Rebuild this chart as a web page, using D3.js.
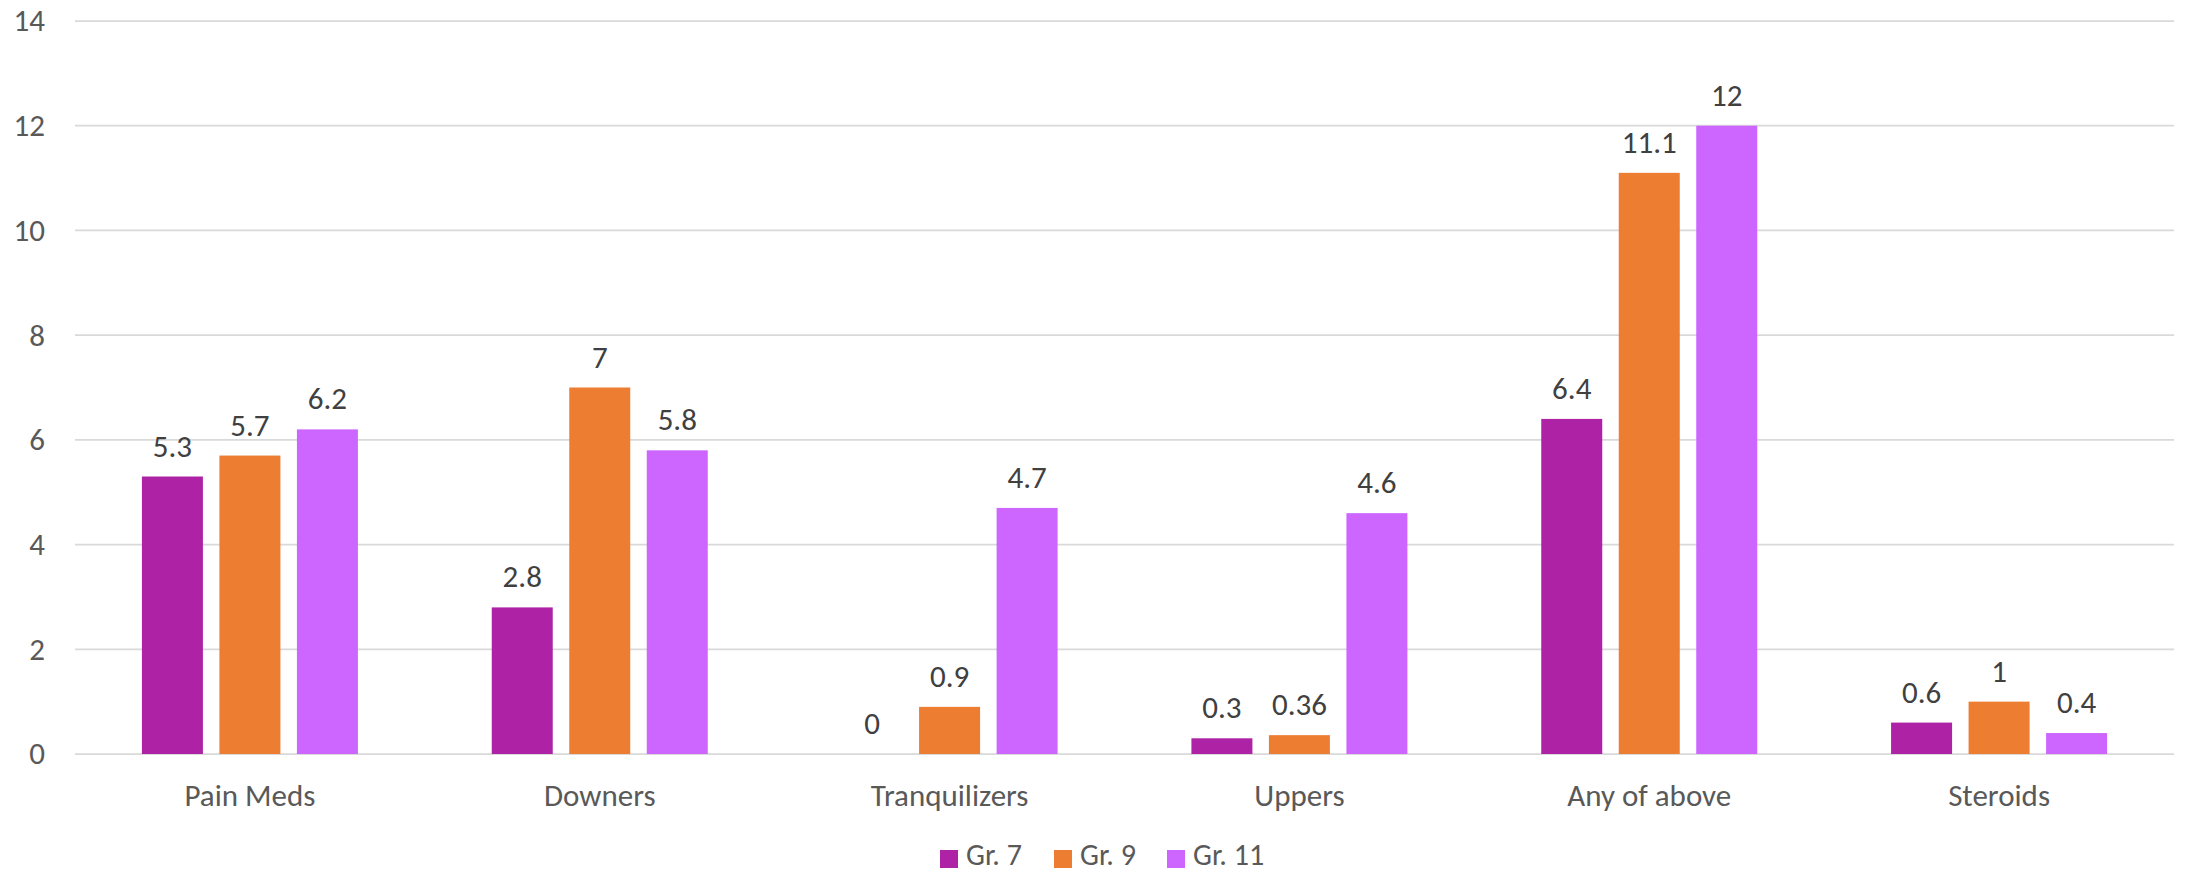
<!DOCTYPE html>
<html>
<head>
<meta charset="utf-8">
<script src="https://cdn.jsdelivr.net/npm/d3@7"></script>
<style>
  html, body { margin: 0; padding: 0; background: #fff; }
  svg { display: block; }
  text { font-family: Calibri, Carlito, Lato, "Open Sans", sans-serif; }
</style>
</head>
<body>
<svg id="chart" width="2186" height="872"></svg>
<script>
const categories = ["Pain Meds", "Downers", "Tranquilizers", "Uppers", "Any of above", "Steroids"];
const seriesNames = ["Gr. 7", "Gr. 9", "Gr. 11"];
const gr7  = [5.3, 2.8, 0,   0.3,  6.4,  0.6];
const gr9  = [5.7, 7,   0.9, 0.36, 11.1, 1];
const gr11 = [6.2, 5.8, 4.7, 4.6,  12,   0.4];
const seriesColors = ["#AE22A6", "#ED7D31", "#CC66FF"];
const yTicks = [0, 2, 4, 6, 8, 10, 12, 14];

const seriesValues = [gr7, gr9, gr11];
const plot = { left: 75, right: 2174, top: 21, bottom: 754 };
const fontSize = 31;
const fontFam = "Calibri, Carlito, Lato, 'Open Sans', sans-serif";

const svg = d3.select("#chart");

const x0 = d3.scaleBand().domain(categories).range([plot.left, plot.right]).paddingInner(0).paddingOuter(0);
const groupW = 216;
const x1 = d3.scaleBand().domain(seriesNames).range([0, groupW]).paddingInner(0.213).paddingOuter(0);
const y = d3.scaleLinear().domain([0, 14]).range([plot.bottom, plot.top]);

// gridlines
svg.append("g").selectAll("line").data(yTicks).join("line")
  .attr("x1", plot.left).attr("x2", plot.right)
  .attr("y1", d => y(d)).attr("y2", d => y(d))
  .attr("stroke", "#D9D9D9").attr("stroke-width", 1.75);

// y axis labels
const yAxis = d3.axisLeft(y).tickValues(yTicks).tickSize(0).tickPadding(0).tickFormat(d3.format("d"));
const yg = svg.append("g").attr("transform", `translate(45,0)`).call(yAxis);
yg.select(".domain").remove();
yg.selectAll("text").attr("fill", "#595959").style("font-size", fontSize + "px").style("font-family", fontFam);

// x axis labels
const xAxis = d3.axisBottom(x0).tickSize(0).tickPadding(0);
const xg = svg.append("g").attr("transform", `translate(0,${plot.bottom})`).call(xAxis);
xg.select(".domain").remove();
xg.selectAll("text").attr("fill", "#595959").attr("dy", null).attr("y", 52)
  .style("font-size", fontSize + "px").style("font-family", fontFam);

// bars
const rows = categories.map((c, i) => ({ cat: c, vals: seriesNames.map((s, j) => ({ s, j, v: seriesValues[j][i] })) }));
const groups = svg.append("g").selectAll("g").data(rows).join("g")
  .attr("transform", d => `translate(${x0(d.cat) + x0.bandwidth() / 2 - groupW / 2},0)`);

groups.selectAll("rect").data(d => d.vals).join("rect")
  .attr("x", d => x1(d.s))
  .attr("width", x1.bandwidth())
  .attr("y", d => y(d.v))
  .attr("height", d => y(0) - y(d.v))
  .attr("fill", d => seriesColors[d.j]);

groups.selectAll("text.lbl").data(d => d.vals).join("text")
  .attr("class", "lbl")
  .attr("x", d => x1(d.s) + x1.bandwidth() / 2)
  .attr("y", d => y(d.v) - 20)
  .attr("text-anchor", "middle")
  .attr("fill", "#404040")
  .style("font-size", fontSize + "px")
  .text(d => String(d.v));

// legend
const legendItems = [
  { name: seriesNames[0], color: seriesColors[0], x: 940 },
  { name: seriesNames[1], color: seriesColors[1], x: 1054 },
  { name: seriesNames[2], color: seriesColors[2], x: 1167 }
];
const lg = svg.append("g").selectAll("g").data(legendItems).join("g")
  .attr("transform", d => `translate(${d.x},850)`);
lg.append("rect").attr("width", 18).attr("height", 18).attr("fill", d => d.color);
lg.append("text").attr("x", 26).attr("y", 14.5).attr("fill", "#595959")
  .style("font-size", "30px").text(d => d.name);
</script>
</body>
</html>
